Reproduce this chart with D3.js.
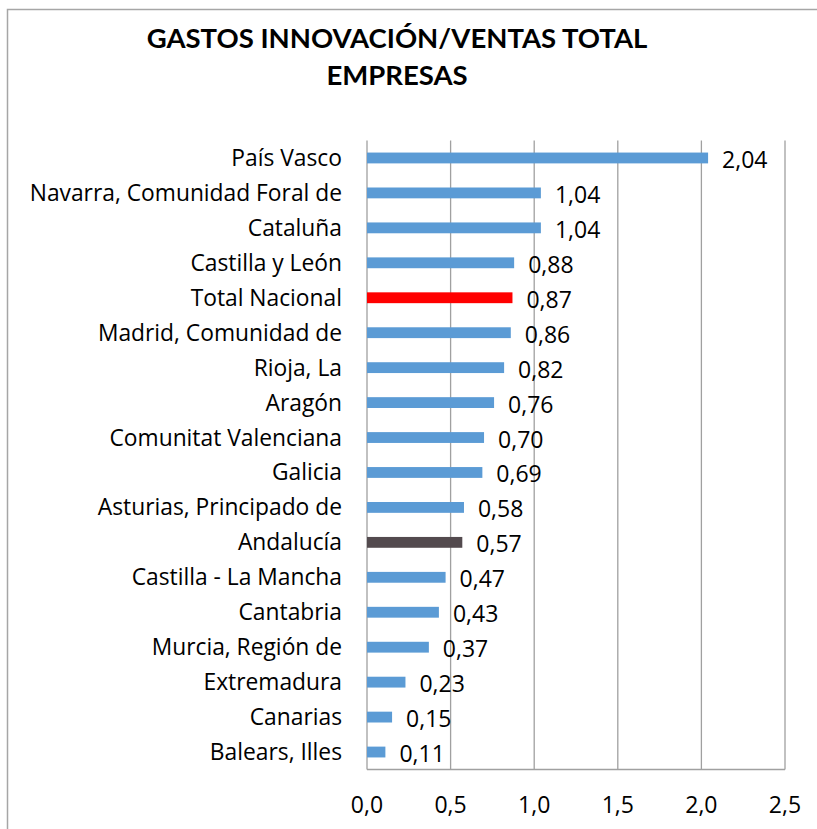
<!DOCTYPE html>
<html>
<head>
<meta charset="utf-8">
<script src="https://cdn.jsdelivr.net/npm/d3@7"></script>
<style>
  body { margin: 0; background: #fff; }
  svg { font-family: "Open Sans", Lato, sans-serif; }
</style>
</head>
<body>
<div class="canva"></div>
<script>
// data
const regiones = ['País Vasco', 'Navarra, Comunidad Foral de', 'Cataluña', 'Castilla y León',
  'Total Nacional', 'Madrid, Comunidad de', 'Rioja, La', 'Aragón', 'Comunitat Valenciana',
  'Galicia', 'Asturias, Principado de', 'Andalucía', 'Castilla - La Mancha', 'Cantabria',
  'Murcia, Región de', 'Extremadura', 'Canarias', 'Balears, Illes'];
const valores = [2.04, 1.04, 1.04, 0.88, 0.87, 0.86, 0.82, 0.76, 0.70, 0.69, 0.58, 0.57,
  0.47, 0.43, 0.37, 0.23, 0.15, 0.11];
const ticks = [0, 0.5, 1.0, 1.5, 2.0, 2.5];
const titulo = ['GASTOS INNOVACIÓN/VENTAS TOTAL', 'EMPRESAS'];

const data = regiones.map((r, i) => ({region: r, valor: valores[i]}));
const fmt = d3.format('.2f');
const coma = v => fmt(v).replace('.', ',');

const W = 817, H = 829;
const plotL = 367, plotR = 785, plotT = 140.5, plotB = 769.5;

const svg = d3.select('.canva').append('svg')
  .attr('width', W)
  .attr('height', H);

// chart border (right and bottom sides fall outside the crop)
svg.append('rect')
  .attr('x', 7.5).attr('y', 9.5)
  .attr('width', 830).attr('height', 840)
  .attr('fill', 'none')
  .attr('stroke', '#a6a6a6')
  .attr('stroke-width', 1.5);

const x = d3.scaleLinear().domain([0, 2.5]).range([plotL, plotR]);
const y = d3.scaleBand().domain(regiones).range([plotT, plotB]).paddingInner(0.69).paddingOuter(0.345);

// gridlines
svg.append('g').selectAll('line')
  .data(ticks)
  .enter().append('line')
  .attr('x1', d => x(d)).attr('x2', d => x(d))
  .attr('y1', plotT).attr('y2', plotB)
  .attr('stroke', '#a0a0a0')
  .attr('stroke-width', 1.3);

// bottom axis line
svg.append('line')
  .attr('x1', plotL).attr('x2', plotR)
  .attr('y1', plotB).attr('y2', plotB)
  .attr('stroke', '#a0a0a0')
  .attr('stroke-width', 1.3);

// bars
svg.append('g').selectAll('rect')
  .data(data)
  .enter().append('rect')
  .attr('x', x(0))
  .attr('y', d => y(d.region))
  .attr('width', d => x(d.valor) - x(0))
  .attr('height', y.bandwidth())
  .attr('fill', d => d.region === 'Total Nacional' ? '#ff0000'
    : d.region === 'Andalucía' ? '#534a4e' : '#5b9bd5');

// value labels
svg.append('g').selectAll('text')
  .data(data)
  .enter().append('text')
  .attr('x', d => x(d.valor) + 14)
  .attr('y', d => y(d.region) + y.bandwidth() / 2 + 10)
  .attr('font-size', 23)
  .attr('fill', '#000')
  .text(d => coma(d.valor));

// category labels
svg.append('g').selectAll('text')
  .data(data)
  .enter().append('text')
  .attr('x', 342)
  .attr('y', d => y(d.region) + y.bandwidth() / 2 + 8)
  .attr('text-anchor', 'end')
  .attr('font-size', 22.8)
  .attr('fill', '#000')
  .text(d => d.region);

// x tick labels
svg.append('g').selectAll('text')
  .data(ticks)
  .enter().append('text')
  .attr('x', d => x(d))
  .attr('y', 813)
  .attr('text-anchor', 'middle')
  .attr('font-size', 23)
  .attr('fill', '#000')
  .text(d => d.toFixed(1).replace('.', ','));

// title
svg.append('g').selectAll('text')
  .data(titulo)
  .enter().append('text')
  .attr('x', 397)
  .attr('y', (d, i) => 48 + i * 37)
  .attr('text-anchor', 'middle')
  .attr('font-family', 'Lato, sans-serif')
  .attr('font-size', 27.5)
  .attr('font-weight', 'bold')
  .attr('fill', '#000')
  .text(d => d);
</script>
</body>
</html>
